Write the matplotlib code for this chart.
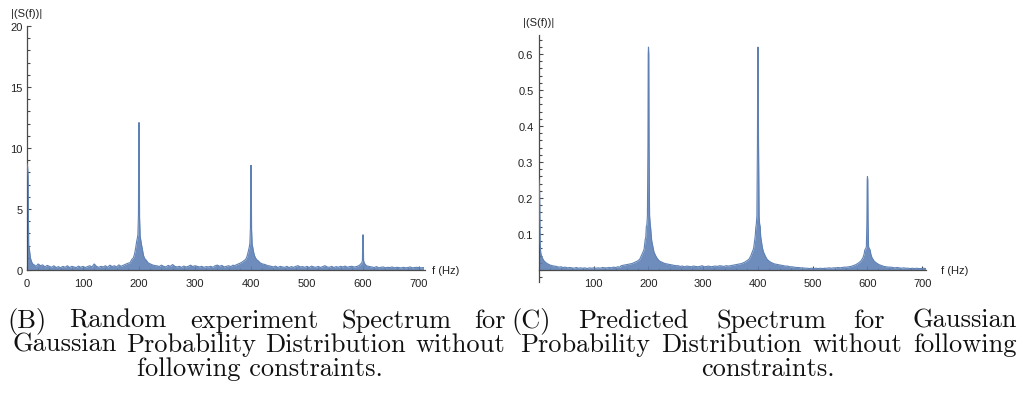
import numpy as np
import matplotlib
matplotlib.use("Agg")
import matplotlib.pyplot as plt
from matplotlib.ticker import MultipleLocator, FixedLocator

W, H = 1022, 402
BLUE = "#5E81B5"
AXIS = "#4a4a4a"
TXT = "#222222"

# ---------------- panel (B): random experiment spectrum ----------------
fB_0 = [0, 1, 2, 3, 4, 5, 6, 8, 10]
sB_0 = [8.7, 8.5, 7.6, 2.0, 1.8, 1.4, 1.0, 0.7, 0.5]

fB_seg1 = np.arange(12, 169, 4)
sB_seg1 = [0.45, 0.3, 0.5, 0.35, 0.42, 0.25, 0.38, 0.3, 0.22, 0.35,
           0.2, 0.28, 0.18, 0.3, 0.22, 0.35, 0.2, 0.3, 0.25, 0.2,
           0.32, 0.22, 0.3, 0.2, 0.28, 0.35, 0.25, 0.5, 0.3, 0.22,
           0.3, 0.25, 0.35, 0.22, 0.4, 0.28, 0.35, 0.25, 0.42, 0.3]

dB_main = [-30, -25, -20, -16, -13, -10, -8, -6, -4, -3, -2, -1, -0.5, 0,
           0.5, 1, 2, 3, 4, 6, 8, 10, 13, 16, 20, 25, 30]
sB_200 = [0.35, 0.45, 0.55, 0.6, 0.85, 1.0, 1.3, 1.8, 2.4, 2.6, 2.9, 4.5,
          11.5, 12.1, 11.5, 4.3, 2.8, 2.5, 2.2, 1.7, 1.2, 0.95, 0.8, 0.6,
          0.5, 0.4, 0.35]

fB_seg2 = np.arange(232, 369, 4)
sB_seg2 = [0.35, 0.28, 0.4, 0.3, 0.25, 0.38, 0.3, 0.45, 0.3, 0.25,
           0.3, 0.22, 0.32, 0.25, 0.3, 0.4, 0.28, 0.35, 0.3, 0.25,
           0.3, 0.22, 0.28, 0.25, 0.3, 0.22, 0.35, 0.4, 0.3, 0.38,
           0.25, 0.3, 0.35, 0.28, 0.4]

sB_400 = [0.35, 0.45, 0.55, 0.65, 0.75, 0.85, 1.0, 1.3, 1.7, 1.9, 2.2, 3.5,
          8.2, 8.6, 8.2, 3.3, 2.1, 1.9, 1.6, 1.2, 1.0, 0.85, 0.75, 0.6,
          0.5, 0.45, 0.35]

fB_seg3 = np.arange(432, 585, 4)
sB_seg3 = [0.35, 0.3, 0.25, 0.32, 0.2, 0.3, 0.25, 0.22, 0.3, 0.2,
           0.28, 0.22, 0.3, 0.35, 0.25, 0.28, 0.22, 0.3, 0.2, 0.32,
           0.25, 0.22, 0.3, 0.2, 0.28, 0.35, 0.25, 0.22, 0.3, 0.2,
           0.28, 0.22, 0.3, 0.25, 0.32, 0.22, 0.28, 0.3, 0.25]

dB_600 = [-15, -10, -6, -4, -2, -1, -0.5, 0, 0.5, 1, 2, 4, 6, 10, 15]
sB_600 = [0.25, 0.3, 0.4, 0.5, 0.6, 0.8, 2.7, 2.9, 2.7, 0.8, 0.6, 0.45,
          0.35, 0.3, 0.25]

fB_seg4 = np.arange(616, 709, 4)
sB_seg4 = [0.25, 0.2, 0.28, 0.18, 0.22, 0.25, 0.18, 0.22, 0.2, 0.25,
           0.18, 0.22, 0.2, 0.17, 0.22, 0.18, 0.2, 0.25, 0.18, 0.2,
           0.22, 0.2, 0.18, 0.2]

# ---------------- panel (C): predicted spectrum ----------------
fC_0 = [0, 1, 2, 3, 4, 6, 8, 10, 13, 16, 20, 24, 28]
sC_0 = [0.25, 0.22, 0.08, 0.05, 0.042, 0.034, 0.028, 0.024, 0.02,
        0.017, 0.014, 0.012, 0.011]

fC_seg1 = np.arange(32, 149, 4)
sC_seg1 = [0.010, 0.008, 0.009, 0.007, 0.008, 0.006, 0.007, 0.006, 0.005, 0.007,
           0.005, 0.006, 0.005, 0.006, 0.004, 0.006, 0.005, 0.006, 0.005, 0.006,
           0.005, 0.007, 0.006, 0.006, 0.007, 0.006, 0.008, 0.007, 0.009, 0.008]

dC_main = [-50, -40, -30, -24, -20, -16, -13, -10, -8, -6, -5, -4, -3, -2, -1,
           -0.5, 0, 0.5, 1, 2, 3, 4, 5, 6, 8, 10, 13, 16, 20, 24, 30, 40, 50]
sC_200 = [0.012, 0.015, 0.018, 0.022, 0.025, 0.03, 0.04, 0.05, 0.058, 0.085,
          0.09, 0.12, 0.125, 0.15, 0.35, 0.6, 0.62, 0.6, 0.35, 0.15,
          0.13, 0.115, 0.095, 0.08, 0.065, 0.05, 0.04, 0.032, 0.025, 0.022,
          0.018, 0.015, 0.012]

fC_seg2 = np.arange(254, 347, 4)
sC_seg2 = [0.012, 0.01, 0.011, 0.009, 0.011, 0.01, 0.009, 0.011, 0.01, 0.009,
           0.01, 0.012, 0.009, 0.01, 0.011, 0.009, 0.01, 0.011, 0.01, 0.012,
           0.011, 0.01, 0.012, 0.011]

sC_400 = [0.012, 0.015, 0.018, 0.022, 0.026, 0.031, 0.04, 0.052, 0.06, 0.082,
          0.095, 0.118, 0.128, 0.15, 0.35, 0.6, 0.62, 0.6, 0.35, 0.15,
          0.128, 0.12, 0.092, 0.082, 0.062, 0.05, 0.04, 0.031, 0.025, 0.021,
          0.017, 0.014, 0.011]

fC_seg3 = np.arange(454, 567, 4)
sC_seg3 = [0.011, 0.009, 0.009, 0.008, 0.007, 0.007, 0.006, 0.006, 0.005, 0.005,
           0.004, 0.005, 0.004, 0.005, 0.004, 0.005, 0.004, 0.005, 0.005, 0.006,
           0.005, 0.006, 0.006, 0.007, 0.006, 0.007, 0.008, 0.008, 0.009]

dC_600 = [-30, -21, -16, -12, -8, -6, -5, -4, -3, -2, -1, -0.5, 0, 0.5, 1, 2,
          3, 4, 5, 6, 8, 12, 16, 21, 30]
sC_600 = [0.01, 0.015, 0.02, 0.025, 0.035, 0.045, 0.055, 0.058, 0.06, 0.065,
          0.14, 0.25, 0.26, 0.25, 0.14, 0.065, 0.06, 0.058, 0.055, 0.045,
          0.035, 0.025, 0.02, 0.015, 0.01]

fC_seg4 = np.arange(634, 707, 4)
sC_seg4 = [0.009, 0.008, 0.008, 0.007, 0.006, 0.007, 0.006, 0.005, 0.006, 0.005,
           0.005, 0.004, 0.005, 0.004, 0.005, 0.004, 0.004, 0.005, 0.004]

peak_freqs = [200, 400, 600]

captionB = ["(B) Random experiment Spectrum for",
            "Gaussian Probability Distribution without",
            "following constraints."]
captionC = ["(C) Predicted Spectrum for Gaussian",
            "Probability Distribution without following",
            "constraints."]


def assemble(parts):
    f = np.concatenate([np.asarray(p[0], float) for p in parts])
    s = np.concatenate([np.asarray(p[1], float) for p in parts])
    return f, s


fB, sB = assemble([
    (fB_0, sB_0), (fB_seg1, sB_seg1),
    (peak_freqs[0] + np.array(dB_main), sB_200), (fB_seg2, sB_seg2),
    (peak_freqs[1] + np.array(dB_main), sB_400), (fB_seg3, sB_seg3),
    (peak_freqs[2] + np.array(dB_600), sB_600), (fB_seg4, sB_seg4)])

fC, sC = assemble([
    (fC_0, sC_0), (fC_seg1, sC_seg1),
    (peak_freqs[0] + np.array(dC_main), sC_200), (fC_seg2, sC_seg2),
    (peak_freqs[1] + np.array(dC_main), sC_400), (fC_seg3, sC_seg3),
    (peak_freqs[2] + np.array(dC_600), sC_600), (fC_seg4, sC_seg4)])

plt.rcParams["font.family"] = ["Liberation Sans", "DejaVu Sans"]

fig = plt.figure(figsize=(W / 100, H / 100), dpi=100)


def px_axes(x0, x1, ytop, ybot):
    return fig.add_axes([x0 / W, 1 - ybot / H, (x1 - x0) / W, (ybot - ytop) / H])


def style(ax, ylab_pad):
    for side in ("top", "right"):
        ax.spines[side].set_visible(False)
    for side in ("left", "bottom"):
        ax.spines[side].set_color(AXIS)
        ax.spines[side].set_linewidth(0.9)
        ax.spines[side].set_position(("data", 0))
    ax.tick_params(which="both", direction="in", colors=AXIS, labelcolor=TXT,
                   labelsize=8, width=0.8)
    ax.tick_params(which="major", length=3.2)
    ax.tick_params(which="minor", length=1.8)
    ax.tick_params(axis="x", pad=5.5)
    ax.tick_params(axis="y", pad=ylab_pad)
    ax.patch.set_alpha(0)


def draw_spectrum(ax, f, s):
    ax.fill_between(f, 0, s, color=BLUE, alpha=0.9, lw=0, zorder=2)
    ax.plot(f, s, color=BLUE, lw=0.8, zorder=3, solid_joinstyle="miter")


# panel B
axB = px_axes(27, 424.6, 27, 271)
draw_spectrum(axB, fB, sB)
axB.set_xlim(0, 710)
axB.set_ylim(0, 20)
style(axB, 3.2)
axB.xaxis.set_major_locator(FixedLocator([0, 100, 200, 300, 400, 500, 600, 700]))
axB.xaxis.set_minor_locator(MultipleLocator(20))
axB.yaxis.set_major_locator(FixedLocator([0, 5, 10, 15, 20]))
axB.yaxis.set_minor_locator(MultipleLocator(1))
axB.set_xticklabels(["0", "100", "200", "300", "400", "500", "600", "700"])
axB.set_yticklabels(["0", "5", "10", "15", "20"])

# panel C
axC = px_axes(539, 925.5, 36, 283)
draw_spectrum(axC, fC, sC)
axC.set_xlim(0, 706)
axC.set_ylim(-0.0333, 0.653)
style(axC, 4.0)
axC.xaxis.set_major_locator(FixedLocator([100, 200, 300, 400, 500, 600, 700]))
axC.xaxis.set_minor_locator(MultipleLocator(20))
axC.yaxis.set_major_locator(FixedLocator([0.1, 0.2, 0.3, 0.4, 0.5, 0.6]))
axC.yaxis.set_minor_locator(MultipleLocator(0.02))
axC.set_xticklabels(["100", "200", "300", "400", "500", "600", "700"])
axC.set_yticklabels(["0.1", "0.2", "0.3", "0.4", "0.5", "0.6"])

# axis labels
lab = dict(fontsize=8, color=TXT, va="center")
fig.text(11 / W, 1 - 14 / H, "|(S(f))|", **lab)
fig.text(523 / W, 1 - 23 / H, "|(S(f))|", **lab)
fig.text(432 / W, 1 - 271 / H, "f (Hz)", **lab)
fig.text(941 / W, 1 - 271 / H, "f (Hz)", **lab)

# captions, justified over each column
renderer = fig.canvas.get_renderer()
cap_font = dict(family="cmr10", color="#111111", va="baseline")

probe = fig.text(0, 0, captionB[2], fontsize=14, **cap_font)
natural = probe.get_window_extent(renderer).width
probe.remove()
cap_fs = 14 * 245.0 / natural


def justified(line, x0, x1, ybase):
    words = line.split()
    texts = [fig.text(0, 1 - ybase / H, w, fontsize=cap_fs, **cap_font) for w in words]
    widths = [t.get_window_extent(renderer).width for t in texts]
    gap = (x1 - x0 - sum(widths)) / (len(words) - 1)
    x = x0
    for t, w in zip(texts, widths):
        t.set_x(x / W)
        x += w + gap


def centered(line, xc, ybase):
    fig.text(xc / W, 1 - ybase / H, line, fontsize=cap_fs, ha="center", **cap_font)


baselines = [328, 352, 376]
justified(captionB[0], 7, 506, baselines[0])
justified(captionB[1], 13, 505, baselines[1])
centered(captionB[2], 259.5, baselines[2])
justified(captionC[0], 511, 1017, baselines[0])
justified(captionC[1], 520, 1017, baselines[1])
centered(captionC[2], 767.5, baselines[2])

fig.savefig("out.png", dpi=100)
